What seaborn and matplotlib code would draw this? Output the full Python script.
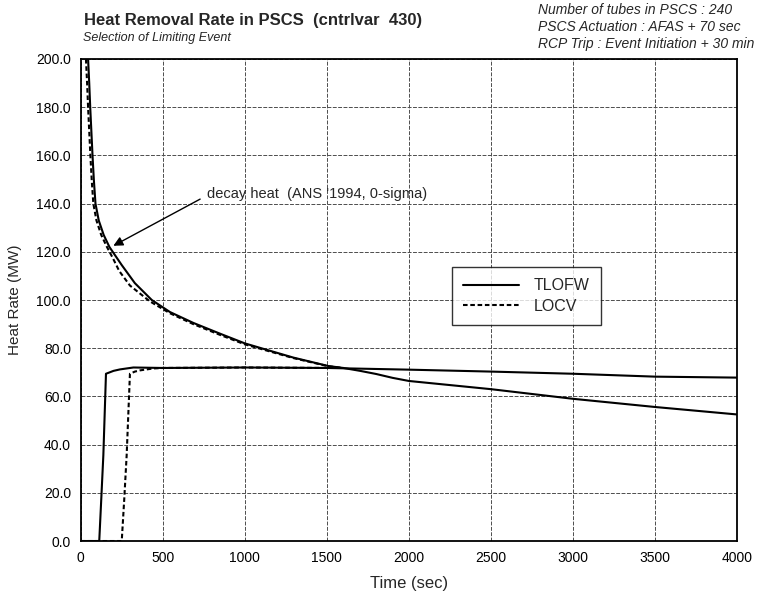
import numpy as np
import pandas as pd
import matplotlib as mpl
import matplotlib.pyplot as plt
import seaborn as sns

sns.set_style("white")
mpl.rcParams["font.family"] = ["Liberation Sans", "DejaVu Sans"]

# decay heat (ANS '1994, 0-sigma)
decay_tlofw_t = [45, 52, 58, 65, 72, 80, 90, 110, 140, 175, 210, 250, 330, 433, 544, 686, 850, 1000, 1150, 1296, 1509, 1600, 1702, 1800, 1900, 2000, 2500, 3000, 3500, 4000]
decay_tlofw_q = [200, 190, 180, 170, 160, 150, 140, 133, 127, 122, 118.5, 114.5, 107, 100, 95, 90.5, 86, 82, 79, 76.1, 72.6, 71.8, 70.6, 69.3, 67.7, 66.4, 63.0, 59.0, 55.6, 52.5]
decay_locv_t = [32, 39, 45, 52, 59, 67, 77, 96, 125, 160, 195, 235, 300, 420, 544, 686, 850, 1000, 1150, 1296, 1509, 1600]
decay_locv_q = [200, 190, 180, 170, 160, 150, 140, 133, 127, 122, 117.5, 112, 106, 99.5, 94.5, 90, 85.5, 81.6, 78.7, 75.9, 72.5, 71.8]

# PSCS heat removal rate
pscs_tlofw_t = [0, 113, 125, 138, 154, 200, 239, 321, 500, 1000, 1500, 2000, 2500, 3000, 3500, 4000]
pscs_tlofw_q = [0, 0, 17, 35.6, 69.4, 70.6, 71.2, 72.0, 71.8, 72.0, 71.8, 71.1, 70.3, 69.4, 68.2, 67.8]
pscs_locv_t = [0, 250, 265, 280, 300, 330, 361, 442, 500, 1000, 1500]
pscs_locv_q = [0, 0, 17, 35.6, 69.4, 70.3, 70.8, 71.6, 71.8, 72.0, 71.8]

x_ticks = [0, 500, 1000, 1500, 2000, 2500, 3000, 3500, 4000]
y_ticks = [0, 20, 40, 60, 80, 100, 120, 140, 160, 180, 200]

frames = []
for case, part, t, q in [("TLOFW", "decay", decay_tlofw_t, decay_tlofw_q),
                         ("TLOFW", "pscs", pscs_tlofw_t, pscs_tlofw_q),
                         ("LOCV", "decay", decay_locv_t, decay_locv_q),
                         ("LOCV", "pscs", pscs_locv_t, pscs_locv_q)]:
    frames.append(pd.DataFrame({"Time": t, "Rate": q, "Case": case, "Part": part}))
df = pd.concat(frames, ignore_index=True)

fig = plt.figure(figsize=(7.57, 6.02), dpi=100)
ax = fig.add_axes([0.1066, 0.1013, 0.8674, 0.8007])

sns.lineplot(data=df, x="Time", y="Rate", style="Case", units="Part", estimator=None,
             sort=False, color="black", style_order=["TLOFW", "LOCV"],
             dashes={"TLOFW": "", "LOCV": (2.2, 1.3)}, linewidth=1.5, ax=ax, legend=True)

ax.set_xlim(0, 4000)
ax.set_ylim(0, 200)
ax.set_xticks(x_ticks)
ax.set_xticklabels([str(v) for v in x_ticks])
ax.set_yticks(y_ticks)
ax.set_yticklabels(["%.1f" % v for v in y_ticks])
ax.tick_params(length=0, pad=7, labelsize=10, colors="black")
ax.grid(True, color="0.3", linewidth=0.7, linestyle=(0, (4, 1.5)))
for s in ax.spines.values():
    s.set_color("black")
    s.set_linewidth(1.3)

ax.set_xlabel("Time (sec)", fontsize=12, labelpad=8)
ax.set_ylabel("Heat Rate (MW)", fontsize=11, labelpad=10)

handles, labels = ax.get_legend_handles_labels()
pairs = [(h, l) for h, l in zip(handles, labels) if l in ("TLOFW", "LOCV")]
leg = ax.legend([p[0] for p in pairs], [p[1] for p in pairs], loc="upper left",
                bbox_to_anchor=(0.5655, 0.568), borderaxespad=0, fancybox=False,
                edgecolor="black", fontsize=11.5, handlelength=3.5, handletextpad=0.9,
                frameon=True, borderpad=0.7, labelspacing=0.35)
leg.get_frame().set_linewidth(1.0)

ax.annotate("decay heat  (ANS '1994, 0-sigma)", xy=(199, 122.5), xytext=(770, 144),
            ha="left", va="center", fontsize=10.5,
            arrowprops=dict(arrowstyle="-|>", color="black", lw=1.0, shrinkA=3, shrinkB=0,
                            relpos=(0, 0.4), mutation_scale=14))

fig.text(84 / 757, 1 - 21 / 602, "Heat Removal Rate in PSCS  (cntrlvar  430)",
         fontsize=12, fontweight="bold", ha="left", va="center")
fig.text(83 / 757, 1 - 38 / 602, "Selection of Limiting Event",
         fontsize=9, style="italic", ha="left", va="center")
for i, line in enumerate(["Number of tubes in PSCS : 240",
                          "PSCS Actuation : AFAS + 70 sec",
                          "RCP Trip : Event Initiation + 30 min"]):
    fig.text(538 / 757, 1 - (10 + 17 * i) / 602, line, fontsize=10, style="italic",
             ha="left", va="center")

fig.savefig("out.png", dpi=100)
